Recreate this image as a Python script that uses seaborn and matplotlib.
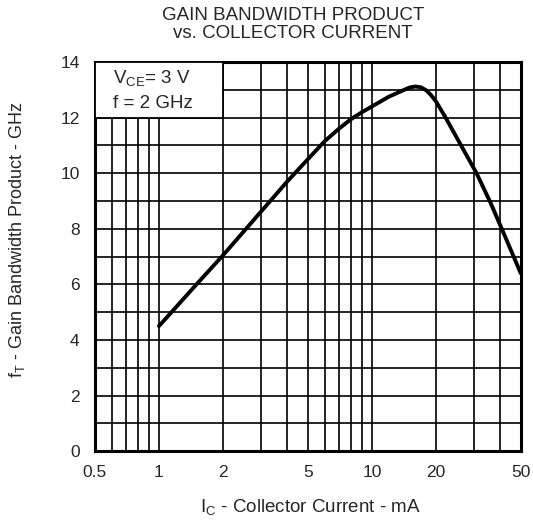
import numpy as np
import pandas as pd
import matplotlib
matplotlib.use("Agg")
import matplotlib.pyplot as plt
from matplotlib.patches import Rectangle
from matplotlib.ticker import FixedLocator, NullFormatter
import seaborn as sns

# =========================================================
# DATA
# =========================================================
collector_current_ma = [1, 1.5, 2, 3, 4, 5, 6, 7, 8, 9, 10, 12, 14, 15, 16, 17, 18, 19, 20,
                        22, 26, 31, 36, 41, 50]
gain_bw_ghz = [4.5, 6.0, 7.05, 8.6, 9.7, 10.5, 11.15, 11.6, 11.95, 12.2, 12.4, 12.75, 12.98,
               13.08, 13.12, 13.09, 12.98, 12.8, 12.58, 12.05, 11.05, 10.0, 8.95, 7.95, 6.4]

x_ticks = [0.5, 1, 2, 5, 10, 20, 50]
x_tick_labels = ["0.5", "1", "2", "5", "10", "20", "50"]
x_grid = [0.6, 0.7, 0.8, 0.9, 1, 2, 3, 4, 5, 6, 7, 8, 9, 10, 20, 30, 40]
y_ticks = [0, 2, 4, 6, 8, 10, 12, 14]
y_grid = list(range(0, 15))

df = pd.DataFrame({"Ic": collector_current_ma, "fT": gain_bw_ghz})

# =========================================================
# STYLE
# =========================================================
sns.set_style("white")
plt.rcParams["font.family"] = ["Liberation Sans", "DejaVu Sans"]
plt.rcParams["mathtext.fontset"] = "custom"
plt.rcParams["mathtext.rm"] = "Liberation Sans"

fig = plt.figure(figsize=(5.33, 5.21), dpi=100)
ax = fig.add_axes([0.178, 0.134, 0.799, 0.747])

sns.lineplot(data=df, x="Ic", y="fT", color="black", linewidth=2.8, ax=ax, zorder=5)

ax.set_xscale("log")
ax.set_xlim(0.5, 50)
ax.set_ylim(0, 14)

# grid lines
for gx in x_grid:
    ax.axvline(gx, color="black", linewidth=1.2, zorder=1)
for gy in y_grid:
    ax.axhline(gy, color="black", linewidth=1.2, zorder=1)

# legend box
ax.add_patch(Rectangle((0.5, 12), 1.5, 2, facecolor="white", edgecolor="black",
                       linewidth=1.3, zorder=3))
ax.text(0.61, 13.38, r"V$_{\mathregular{CE}}$= 3 V", fontsize=13.5, va="center", zorder=4)
ax.text(0.61, 12.5, "f = 2 GHz", fontsize=13.5, va="center", zorder=4)

ax.xaxis.set_major_locator(FixedLocator(x_ticks))
ax.xaxis.set_minor_formatter(NullFormatter())
ax.set_xticks(x_ticks)
ax.set_xticklabels(x_tick_labels)
ax.set_yticks(y_ticks)
ax.tick_params(axis="x", which="both", length=0, labelsize=12.5, pad=10)
ax.tick_params(axis="y", which="both", length=0, labelsize=12.5, pad=11)
ax.set_xlabel("")
ax.set_ylabel("")

for s in ax.spines.values():
    s.set_linewidth(2.2)
    s.set_color("black")

fig.text(0.582, 0.025, r"I$_{\mathregular{C}}$ - Collector Current - mA",
         ha="center", va="center", fontsize=13.5)
fig.text(0.032, 0.54, r"f$_{\mathregular{T}}$ - Gain Bandwidth Product - GHz",
         ha="center", va="center", rotation=90, fontsize=13)

fig.text(0.55, 0.971, "GAIN BANDWIDTH PRODUCT", ha="center", va="center", fontsize=13.5)
fig.text(0.55, 0.935, "vs. COLLECTOR CURRENT", ha="center", va="center", fontsize=13.5)

fig.savefig("out.png", dpi=100)
